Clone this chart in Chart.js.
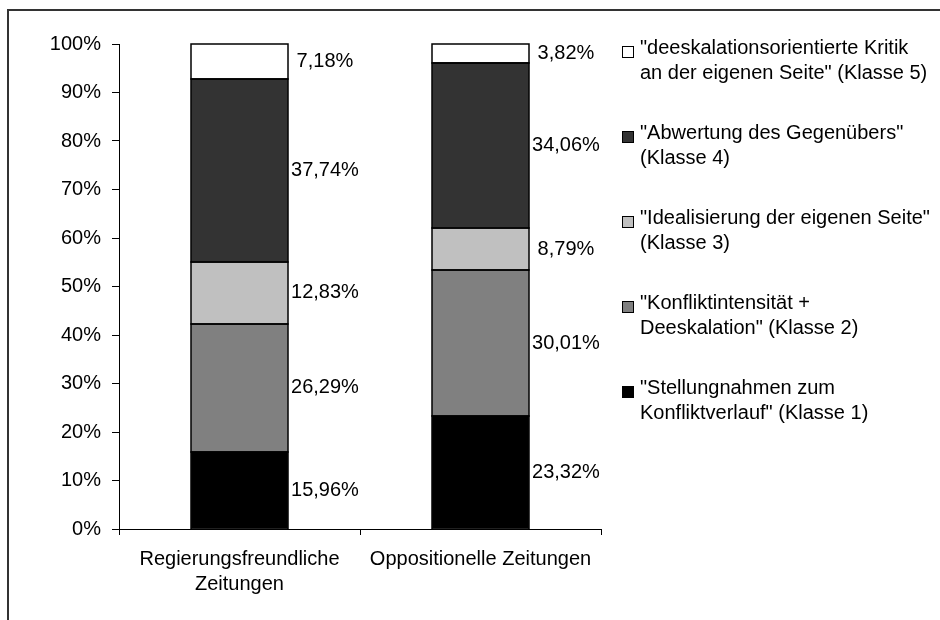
<!DOCTYPE html>
<html lang="de">
<head>
    <meta charset="UTF-8">
    <title>Klassen nach Zeitungstyp</title>
    <style>
        body, html {
            margin: 0;
            background: #fff;
        }
        canvas {
            display: block;
        }
    </style>
</head>
<body>
    <canvas id="klassenChart" width="940" height="620"></canvas>
    <script src="https://cdn.jsdelivr.net/npm/chart.js"></script>
    <script>
        const categories = [['Regierungsfreundliche', 'Zeitungen'], 'Oppositionelle Zeitungen'];

        const seriesNames = [
            ['"Stellungnahmen zum', 'Konfliktverlauf" (Klasse 1)'],
            ['"Konfliktintensität +', 'Deeskalation" (Klasse 2)'],
            ['"Idealisierung der eigenen Seite"', '(Klasse 3)'],
            ['"Abwertung des Gegenübers"', '(Klasse 4)'],
            ['"deeskalationsorientierte Kritik', 'an der eigenen Seite" (Klasse 5)']
        ];

        const klasse1 = [15.96, 23.32];
        const klasse2 = [26.29, 30.01];
        const klasse3 = [12.83, 8.79];
        const klasse4 = [37.74, 34.06];
        const klasse5 = [7.18, 3.82];

        const fills = ['#000000', '#808080', '#c0c0c0', '#333333', '#ffffff'];
        const yTicks = [0, 10, 20, 30, 40, 50, 60, 70, 80, 90, 100];

        const FONT = '"Liberation Sans", Arial, sans-serif';
        const SIZE = 20;

        function fmt(v) {
            return v.toFixed(2).replace('.', ',') + '%';
        }

        // frame around the whole picture (open to the right and bottom)
        const framePlugin = {
            id: 'frame',
            beforeDraw(chart) {
                const ctx = chart.ctx;
                ctx.save();
                ctx.fillStyle = '#333333';
                ctx.fillRect(7, 9, 2, 700);
                ctx.fillRect(7, 9, 1000, 2);
                ctx.restore();
            }
        };

        // crisp black outline round every segment, then the value labels
        const valueLabels = {
            id: 'valueLabels',
            afterDatasetsDraw(chart) {
                const ctx = chart.ctx;
                ctx.save();
                ctx.strokeStyle = '#000';
                ctx.lineWidth = 1.5;
                chart.data.datasets.forEach((ds, i) => {
                    chart.getDatasetMeta(i).data.forEach(bar => {
                        const l = Math.round(bar.x - bar.width / 2);
                        const r = Math.round(bar.x + bar.width / 2);
                        const t = Math.round(bar.y);
                        const b = Math.round(bar.base);
                        ctx.strokeRect(l, t, r - l, b - t);
                    });
                });

                ctx.font = SIZE + 'px ' + FONT;
                ctx.fillStyle = '#000';
                ctx.textAlign = 'center';
                ctx.textBaseline = 'middle';
                chart.data.datasets.forEach((ds, i) => {
                    chart.getDatasetMeta(i).data.forEach((bar, j) => {
                        const x = bar.x + bar.width / 2 + 37;
                        const y = (bar.y + bar.base) / 2;
                        ctx.fillText(fmt(ds.data[j]), x, y);
                    });
                });
                ctx.restore();
            }
        };

        // legend with two-line entries, Klasse 5 on top
        const sideLegend = {
            id: 'sideLegend',
            afterDraw(chart) {
                const ctx = chart.ctx;
                ctx.save();
                ctx.font = SIZE + 'px ' + FONT;
                ctx.textAlign = 'left';
                ctx.textBaseline = 'middle';
                const order = chart.data.datasets.map((d, i) => i).reverse();
                order.forEach((i, k) => {
                    const ds = chart.data.datasets[i];
                    const top = 48 + k * 85;
                    ctx.fillStyle = ds.backgroundColor;
                    ctx.fillRect(622.5, top - 1.5, 11, 11);
                    ctx.strokeStyle = '#000';
                    ctx.lineWidth = 1;
                    ctx.strokeRect(622.5, top - 1.5, 11, 11);
                    ctx.fillStyle = '#000';
                    seriesNames[i].forEach((line, n) => {
                        ctx.fillText(line, 640, top + n * 25);
                    });
                });
                ctx.restore();
            }
        };

        const seriesData = [klasse1, klasse2, klasse3, klasse4, klasse5];

        new Chart(document.getElementById('klassenChart'), {
            type: 'bar',
            data: {
                labels: categories,
                datasets: seriesData.map((vals, i) => ({
                    label: seriesNames[i].join(' '),
                    data: vals,
                    backgroundColor: fills[i],
                    borderWidth: 0,
                    inflateAmount: 0,
                    categoryPercentage: 1,
                    barPercentage: 0.402
                }))
            },
            options: {
                responsive: false,
                animation: false,
                devicePixelRatio: 1,
                layout: {
                    padding: { left: 0, top: 44, right: 339, bottom: 0 }
                },
                plugins: {
                    legend: { display: false },
                    tooltip: { enabled: false }
                },
                scales: {
                    x: {
                        stacked: true,
                        grid: {
                            display: true,
                            drawOnChartArea: false,
                            color: '#000',
                            tickLength: 6,
                            offset: true
                        },
                        border: { color: '#000', width: 1 },
                        ticks: {
                            color: '#000',
                            font: { family: FONT, size: SIZE, lineHeight: 1.25 },
                            padding: 12,
                            maxRotation: 0,
                            autoSkip: false
                        },
                        afterFit(scale) { scale.height = 91; }
                    },
                    y: {
                        stacked: true,
                        min: 0,
                        max: 100,
                        afterBuildTicks(scale) {
                            scale.ticks = yTicks.map(v => ({ value: v }));
                        },
                        grid: {
                            display: true,
                            drawOnChartArea: false,
                            color: '#000',
                            tickLength: 7
                        },
                        border: { color: '#000', width: 1 },
                        ticks: {
                            color: '#000',
                            font: { family: FONT, size: SIZE },
                            padding: 11,
                            callback: v => v + '%'
                        },
                        afterFit(scale) { scale.width = 119; }
                    }
                }
            },
            plugins: [framePlugin, valueLabels, sideLegend]
        });
    </script>
</body>
</html>
